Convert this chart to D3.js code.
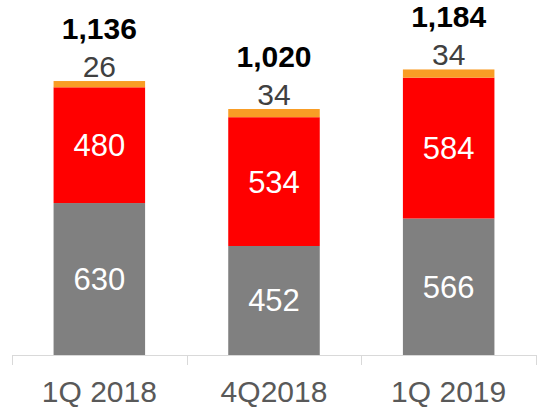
<!DOCTYPE html>
<html>
<head>
<meta charset="utf-8">
<script src="https://cdn.jsdelivr.net/npm/d3@7"></script>
<style>
  body { margin: 0; background: #fff; }
  text { font-family: "Liberation Sans", Arial, sans-serif; }
</style>
</head>
<body>
<div id="chart"></div>
<script>
// data
const quarters = ["1Q 2018", "4Q2018", "1Q 2019"];
const grayVals = [630, 452, 566];
const redVals = [480, 534, 584];
const orangeVals = [26, 34, 34];
const totals = ["1,136", "1,020", "1,184"];

const width = 543, height = 409;
const margin = {top: 0, right: 7, bottom: 54, left: 12};

const svg = d3.select("#chart").append("svg")
    .attr("width", width)
    .attr("height", height);

const rows = quarters.map((q, i) => ({q: q, gray: grayVals[i], red: redVals[i], orange: orangeVals[i]}));
const keys = ["gray", "red", "orange"];
const colors = {gray: "#808080", red: "#ff0000", orange: "#f99d25"};

const stacked = d3.stack().keys(keys)(rows);

const x = d3.scaleBand()
    .domain(quarters)
    .range([margin.left, width - margin.right])
    .paddingInner(0.476)
    .paddingOuter(0.238);

// 1136 units -> about 274px
const y = d3.scaleLinear()
    .domain([0, 1472])
    .range([height - margin.bottom, height - margin.bottom - 355]);

const baseY = y(0);

// bars
svg.append("g").selectAll("g")
    .data(stacked)
    .join("g")
    .attr("fill", d => colors[d.key])
    .selectAll("rect")
    .data(d => d)
    .join("rect")
    .attr("x", d => x(d.data.q))
    .attr("y", d => y(d[1]))
    .attr("width", x.bandwidth())
    .attr("height", d => y(d[0]) - y(d[1]));

// axis line + ticks
const ax = svg.append("g").attr("stroke", "#d9d9d9").attr("stroke-width", 1);
ax.append("line")
    .attr("x1", margin.left).attr("x2", width - margin.right)
    .attr("y1", baseY + 0.5).attr("y2", baseY + 0.5);
const step = x.step();
d3.range(quarters.length + 1).forEach(i => {
    const tx = Math.round(margin.left + i * step) + 0.5;
    ax.append("line")
        .attr("x1", tx).attr("x2", tx)
        .attr("y1", baseY).attr("y2", baseY + 10);
});

// category labels
svg.append("g").selectAll("text")
    .data(quarters)
    .join("text")
    .attr("x", d => x(d) + x.bandwidth() / 2)
    .attr("y", baseY + 47)
    .attr("text-anchor", "middle")
    .attr("font-size", 30)
    .attr("fill", "#595959")
    .text(d => d);

// white labels inside gray and red
["gray", "red"].forEach(k => {
    const layer = stacked.find(s => s.key === k);
    svg.append("g").selectAll("text")
        .data(layer)
        .join("text")
        .attr("x", d => x(d.data.q) + x.bandwidth() / 2)
        .attr("y", d => (y(d[0]) + y(d[1])) / 2 + 11)
        .attr("text-anchor", "middle")
        .attr("font-size", 31)
        .attr("fill", "#ffffff")
        .text(d => d.data[k]);
});

// orange values above bars
const topLayer = stacked.find(s => s.key === "orange");
svg.append("g").selectAll("text")
    .data(topLayer)
    .join("text")
    .attr("x", d => x(d.data.q) + x.bandwidth() / 2)
    .attr("y", d => y(d[1]) - 4)
    .attr("text-anchor", "middle")
    .attr("font-size", 30)
    .attr("fill", "#404040")
    .text(d => d.data.orange);

// totals, bold
svg.append("g").selectAll("text")
    .data(topLayer)
    .join("text")
    .attr("x", d => x(d.data.q) + x.bandwidth() / 2)
    .attr("y", d => y(d[1]) - 42)
    .attr("text-anchor", "middle")
    .attr("font-size", 30)
    .attr("font-weight", "bold")
    .attr("fill", "#000000")
    .text((d, i) => totals[i]);
</script>
</body>
</html>
